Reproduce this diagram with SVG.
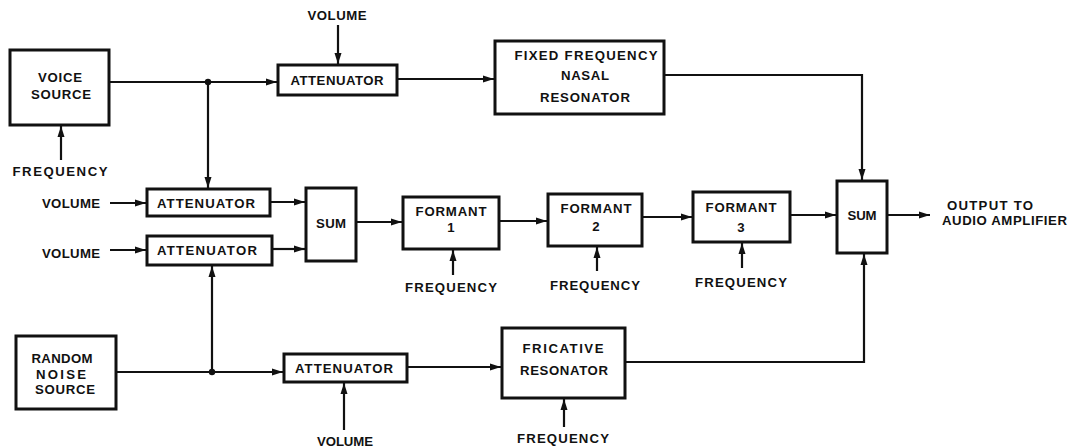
<svg xmlns="http://www.w3.org/2000/svg" width="1071" height="447" viewBox="0 0 1071 447">
<style>
.box{fill:#fff;stroke:#111;stroke-width:3}
.ln{fill:none;stroke:#111;stroke-width:2.2}
.ar{marker-end:url(#ah)}
text{font-family:"Liberation Sans",Arial,sans-serif;font-weight:bold;font-size:13.2px;fill:#111;text-anchor:middle}
</style>
<defs>
<marker id="ah" markerUnits="userSpaceOnUse" markerWidth="12" markerHeight="8" refX="11" refY="4" orient="auto">
<path d="M0,0.5 L11,4 L0,7.5 Z" fill="#111"/>
</marker>
</defs>
<rect width="1071" height="447" fill="#fff"/>
<g id="connectors">
<path class="ln" d="M110,82 H208"/>
<path class="ln ar" d="M208,82 H277"/>
<path class="ln ar" d="M208,82 V188"/>
<path class="ln ar" d="M338,25 V64"/>
<path class="ln ar" d="M398,79 H494"/>
<path class="ln ar" d="M665,75 H862 V180"/>
<path class="ln ar" d="M61,160 V126"/>
<path class="ln ar" d="M110,203 H146"/>
<path class="ln ar" d="M110,250 H146"/>
<path class="ln ar" d="M271,202 H305"/>
<path class="ln ar" d="M273,249 H305"/>
<path class="ln ar" d="M357,222 H402"/>
<path class="ln ar" d="M453,275 V250"/>
<path class="ln ar" d="M500,221 H547"/>
<path class="ln ar" d="M597,271 V247"/>
<path class="ln ar" d="M643,217 H692"/>
<path class="ln ar" d="M742,268 V243"/>
<path class="ln ar" d="M791,215 H836"/>
<path class="ln ar" d="M888,215 H930"/>
<path class="ln" d="M117,372 H212"/>
<path class="ln ar" d="M212,372 H283"/>
<path class="ln ar" d="M212,372 V266"/>
<path class="ln ar" d="M408,367 H501"/>
<path class="ln ar" d="M344,430 V383"/>
<path class="ln ar" d="M626,362 H864 V254"/>
<path class="ln ar" d="M564,427 V399"/>
<circle cx="208" cy="82" r="3.2" fill="#111"/>
<circle cx="212" cy="372" r="3.2" fill="#111"/>
</g>
<g id="labels">
<text x="337" y="20" textLength="59">VOLUME</text>
<text x="60" y="176" textLength="95">FREQUENCY</text>
<text x="71" y="208" textLength="58">VOLUME</text>
<text x="71" y="258" textLength="58">VOLUME</text>
<text x="451" y="292" textLength="92">FREQUENCY</text>
<text x="595" y="290" textLength="90">FREQUENCY</text>
<text x="741" y="287" textLength="92">FREQUENCY</text>
<text x="947" y="210" textLength="86" style="text-anchor:start">OUTPUT TO</text>
<text x="942" y="225" textLength="125" style="text-anchor:start">AUDIO AMPLIFIER</text>
<text x="345" y="446" textLength="56">VOLUME</text>
<text x="563" y="443" textLength="92">FREQUENCY</text>
</g>
<g id="voice-source">
<rect class="box" x="10" y="50" width="99" height="75"/>
<text x="60" y="82" textLength="44">VOICE</text>
<text x="61" y="99" textLength="60">SOURCE</text>
</g>
<g id="attenuator-top">
<rect class="box" x="278" y="65" width="119" height="30"/>
<text x="337" y="85" textLength="93">ATTENUATOR</text>
</g>
<g id="nasal-resonator">
<rect class="box" x="495" y="41" width="169" height="73"/>
<text x="586" y="60" textLength="143">FIXED FREQUENCY</text>
<text x="585" y="80" textLength="48">NASAL</text>
<text x="585" y="102" textLength="90">RESONATOR</text>
</g>
<g id="attenuator-voice">
<rect class="box" x="147" y="189" width="123" height="27"/>
<text x="206" y="208" textLength="98">ATTENUATOR</text>
</g>
<g id="attenuator-noise">
<rect class="box" x="147" y="236" width="125" height="29"/>
<text x="207" y="255" textLength="100">ATTENUATOR</text>
</g>
<g id="sum-left">
<rect class="box" x="306" y="188" width="50" height="73"/>
<text x="331" y="228" textLength="30">SUM</text>
</g>
<g id="formant-1">
<rect class="box" x="403" y="197" width="96" height="52"/>
<text x="451" y="216" textLength="71">FORMANT</text>
<text x="451" y="232">1</text>
</g>
<g id="formant-2">
<rect class="box" x="548" y="194" width="94" height="52"/>
<text x="596" y="213" textLength="71">FORMANT</text>
<text x="596" y="231">2</text>
</g>
<g id="formant-3">
<rect class="box" x="693" y="192" width="97" height="50"/>
<text x="741" y="212" textLength="71">FORMANT</text>
<text x="741" y="232">3</text>
</g>
<g id="sum-right">
<rect class="box" x="837" y="181" width="50" height="72"/>
<text x="862" y="220" textLength="29">SUM</text>
</g>
<g id="random-noise-source">
<rect class="box" x="16" y="336" width="100" height="73"/>
<text x="62" y="363" textLength="61">RANDOM</text>
<text x="61" y="379" textLength="50">NOISE</text>
<text x="65" y="394" textLength="60">SOURCE</text>
</g>
<g id="attenuator-bottom">
<rect class="box" x="284" y="354" width="123" height="28"/>
<text x="344" y="373" textLength="98">ATTENUATOR</text>
</g>
<g id="fricative-resonator">
<rect class="box" x="502" y="328" width="123" height="70"/>
<text x="563" y="353" textLength="81">FRICATIVE</text>
<text x="564" y="375" textLength="88">RESONATOR</text>
</g>
</svg>
